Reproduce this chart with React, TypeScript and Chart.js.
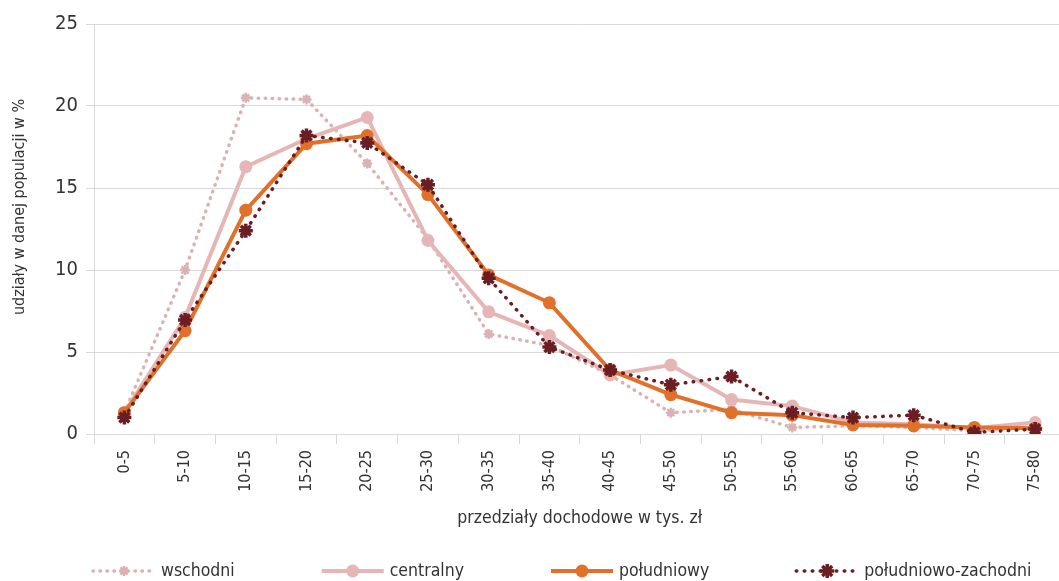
import React, { useEffect, useRef } from 'react';
import { Chart, registerables } from 'chart.js';

Chart.register(...registerables);

const categories = ['0-5', '5-10', '10-15', '15-20', '20-25', '25-30', '30-35', '35-40', '40-45', '45-50', '50-55', '55-60', '60-65', '65-70', '70-75', '75-80'];
const wschodni = [1.3, 10.0, 20.5, 20.4, 16.5, 11.9, 6.1, 5.4, 3.6, 1.3, 1.5, 0.4, 0.5, 0.4, 0.2, 0.4];
const centralny = [1.3, 7.1, 16.3, 18.0, 19.3, 11.8, 7.45, 6.0, 3.6, 4.2, 2.1, 1.7, 0.7, 0.6, 0.35, 0.7];
const poludniowy = [1.3, 6.3, 13.65, 17.7, 18.2, 14.6, 9.7, 8.0, 3.9, 2.4, 1.3, 1.15, 0.55, 0.5, 0.4, 0.35];
const poludniowoZachodni = [1.0, 6.95, 12.4, 18.2, 17.75, 15.2, 9.5, 5.3, 3.9, 3.0, 3.5, 1.3, 1.0, 1.15, 0.1, 0.3];
const yTicks = [0, 5, 10, 15, 20, 25];
const seriesNames = ['wschodni', 'centralny', 'południowy', 'południowo-zachodni'];
const xTitle = 'przedziały dochodowe w tys. zł';
const yTitle = 'udziały w danej populacji w %';

const FAMILY = '"Liberation Sans Narrow", "Arial Narrow", "DejaVu Sans Condensed", "Liberation Sans", sans-serif';
const TXT = '#333333';
const GRID = '#D9D9D9';

function drawMarker(c: CanvasRenderingContext2D, style: string, x: number, y: number, r: number, fill: string, stroke: string, bw: number) {
  c.save();
  if (style === 'circle') {
    c.fillStyle = fill;
    c.beginPath();
    c.arc(x, y, r, 0, Math.PI * 2);
    c.fill();
  } else {
    c.strokeStyle = stroke;
    c.lineWidth = bw;
    c.beginPath();
    for (let i = 0; i < 4; i++) {
      const a = (i * Math.PI) / 4;
      c.moveTo(x - Math.cos(a) * r, y - Math.sin(a) * r);
      c.lineTo(x + Math.cos(a) * r, y + Math.sin(a) * r);
    }
    c.stroke();
  }
  c.restore();
}

const legendPlugin = {
  id: 'lineLegend',
  afterDraw(chart: any) {
    const c: CanvasRenderingContext2D = chart.ctx;
    const area = chart.chartArea;
    // y-axis title
    c.save();
    c.font = `16px ${FAMILY}`;
    c.fillStyle = TXT;
    c.textAlign = 'center';
    c.textBaseline = 'middle';
    c.translate(20, (area.top + area.bottom) / 2 - 22);
    c.rotate(-Math.PI / 2);
    c.fillText(yTitle, 0, 0);
    c.restore();

    // legend
    c.save();
    c.font = `17.5px ${FAMILY}`;
    let x = 93;
    const y = 571;
    const lineLen = 62;
    const textGap = 6;
    const gap = 87;
    chart.data.datasets.forEach((ds: any) => {
      c.save();
      c.strokeStyle = ds.borderColor;
      c.lineWidth = ds.borderWidth;
      c.setLineDash(ds.borderDash || []);
      c.lineCap = ds.borderCapStyle || 'butt';
      c.beginPath();
      c.moveTo(x, y);
      c.lineTo(x + lineLen, y);
      c.stroke();
      c.restore();
      drawMarker(c, ds.pointStyle, x + lineLen / 2, y, ds.pointRadius, ds.pointBackgroundColor, ds.pointBorderColor, ds.pointBorderWidth);
      c.fillStyle = TXT;
      c.textBaseline = 'middle';
      c.textAlign = 'left';
      c.fillText(ds.label, x + lineLen + textGap, y);
      x += lineLen + textGap + c.measureText(ds.label).width + gap;
    });
    c.restore();
  },
};

export default function App() {
  const ref = useRef<HTMLCanvasElement>(null);
  useEffect(() => {
    const canvas = ref.current!;
    const chart = new Chart(canvas, {
      type: 'line',
      data: {
        labels: categories,
        datasets: [
          {
            label: seriesNames[0],
            data: wschodni,
            borderColor: '#DBB2B4',
            borderWidth: 3.5,
            borderDash: [0.5, 6.5],
            borderCapStyle: 'round',
            pointStyle: 'star',
            pointRadius: 5,
            pointBorderWidth: 2.5,
            pointBorderColor: '#DBB2B4',
            pointBackgroundColor: '#DBB2B4',
            order: 4,
          } as any,
          {
            label: seriesNames[1],
            data: centralny,
            borderColor: '#E6B5B5',
            borderWidth: 4,
            pointStyle: 'circle',
            pointRadius: 6.5,
            pointBorderWidth: 0,
            pointBorderColor: '#E6B5B5',
            pointBackgroundColor: '#E6B5B5',
            order: 3,
          } as any,
          {
            label: seriesNames[2],
            data: poludniowy,
            borderColor: '#E0702A',
            borderWidth: 4,
            pointStyle: 'circle',
            pointRadius: 6.5,
            pointBorderWidth: 0,
            pointBorderColor: '#E0702A',
            pointBackgroundColor: '#E0702A',
            order: 2,
          } as any,
          {
            label: seriesNames[3],
            data: poludniowoZachodni,
            borderColor: '#6A1D22',
            borderWidth: 3.5,
            borderDash: [0.5, 7.5],
            borderCapStyle: 'round',
            pointStyle: 'star',
            pointRadius: 7,
            pointBorderWidth: 3.5,
            pointBorderColor: '#6A1D22',
            pointBackgroundColor: '#6A1D22',
            order: 1,
          } as any,
        ],
      },
      options: {
        animation: false,
        responsive: false,
        maintainAspectRatio: false,
        layout: { padding: { top: 24, left: 0, right: 2, bottom: 52 } },
        plugins: {
          legend: { display: false },
          tooltip: { enabled: false },
        },
        scales: {
          x: {
            type: 'category',
            offset: true,
            grid: { offset: true, drawOnChartArea: false, drawTicks: true, tickLength: 10, color: GRID },
            border: { display: true, color: GRID },
            ticks: {
              minRotation: 90,
              maxRotation: 90,
              autoSkip: false,
              padding: 6,
              color: TXT,
              font: { family: FAMILY, size: 16 },
            },
            title: {
              display: true,
              text: xTitle,
              color: TXT,
              font: { family: FAMILY, size: 17.5 },
              padding: { top: 4, bottom: 0 },
            },
            afterFit: (s: any) => {
              s.height = 95;
            },
          },
          y: {
            min: 0,
            max: 25,
            afterBuildTicks: (s: any) => {
              s.ticks = yTicks.map((v) => ({ value: v }));
            },
            grid: { color: GRID, tickLength: 8, drawTicks: true },
            border: { display: true, color: GRID },
            ticks: {
              padding: 8,
              color: TXT,
              font: { family: FAMILY, size: 20 },
            },
            title: { display: false },
            afterFit: (s: any) => {
              s.width = 94;
            },
          },
        },
      } as any,
      plugins: [legendPlugin],
    });
    return () => chart.destroy();
  }, []);

  return (
    <div style={{ position: 'fixed', left: 0, top: 0, width: '1059px', height: '581px', overflow: 'hidden', background: '#fff' }}>
      <canvas ref={ref} width={1076} height={581} style={{ width: '1076px', height: '581px', display: 'block' }} />
    </div>
  );
}
